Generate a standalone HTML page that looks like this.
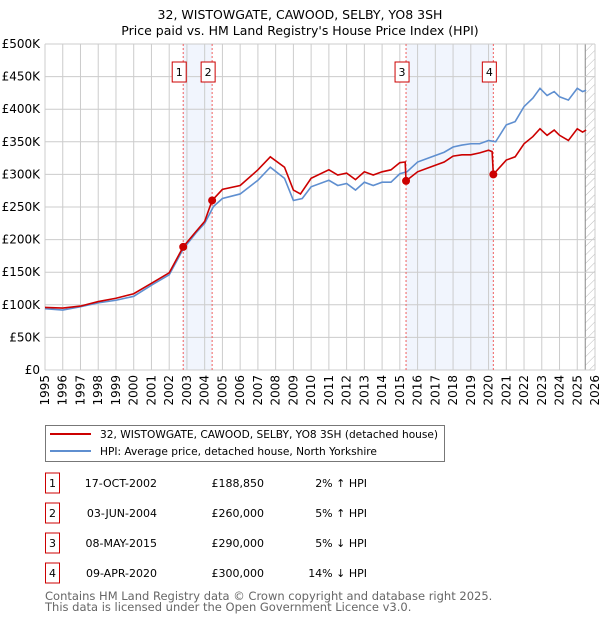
<!DOCTYPE html>
<html><head><meta charset="utf-8"><style>
body{margin:0;background:#fff;font-family:"DejaVu Sans","Liberation Sans",sans-serif;}
svg text{font-family:"DejaVu Sans","Liberation Sans",sans-serif;}
</style></head><body>
<svg id="chart" width="600" height="620" xmlns="http://www.w3.org/2000/svg">
<defs><pattern id="hatch" patternUnits="userSpaceOnUse" width="6" height="6" patternTransform="rotate(45)"><line x1="0" y1="0" x2="0" y2="6" stroke="#bbb" stroke-width="1"/></pattern></defs>
<text x="300" y="19" text-anchor="middle" font-size="12.5">32, WISTOWGATE, CAWOOD, SELBY, YO8 3SH</text>
<text x="300" y="35" text-anchor="middle" font-size="12.5">Price paid vs. HM Land Registry's House Price Index (HPI)</text>
<g id="plot"></g>
<g>
<rect x="45.5" y="425.5" width="399" height="36" fill="#fff" stroke="#777"/>
<line x1="50" y1="434" x2="91" y2="434" stroke="#cc0000" stroke-width="2"/>
<text x="100" y="438" font-size="10.6">32, WISTOWGATE, CAWOOD, SELBY, YO8 3SH (detached house)</text>
<line x1="50" y1="451" x2="91" y2="451" stroke="#5f8fd0" stroke-width="2"/>
<text x="100" y="455" font-size="10.6">HPI: Average price, detached house, North Yorkshire</text>
</g>
<g id="table"></g>
<text x="45" y="600" font-size="11.5" fill="#666">Contains HM Land Registry data © Crown copyright and database right 2025.</text>
<text x="45" y="611" font-size="11.5" fill="#666">This data is licensed under the Open Government Licence v3.0.</text>
</svg>
<script>
const hpiYears=[1995,1996,1997,1998,1999,2000,2001,2002,2002.8,2003.5,2004,2004.5,2005,2006,2007,2007.7,2008.5,2009,2009.5,2010,2011,2011.5,2012,2012.5,2013,2013.5,2014,2014.5,2015,2015.4,2016,2016.5,2017,2017.5,2018,2018.5,2019,2019.5,2020,2020.4,2021,2021.5,2022,2022.5,2022.9,2023.3,2023.7,2024,2024.5,2025,2025.3,2025.5];
const hpiValues=[94,92,97,103,107,113,130,146,186,210,225,251,263,270,291,311,294,260,263,281,291,283,286,276,288,283,288,288,301,304,319,324,329,334,342,345,347,347,352,350,376,381,404,417,432,421,427,419,414,432,427,429];
const priceYears=[1995,1996,1997,1998,1999,2000,2001,2002,2002.79,2003.5,2004,2004.42,2005,2006,2007,2007.7,2008.5,2009,2009.4,2010,2011,2011.5,2012,2012.5,2013,2013.5,2014,2014.5,2015,2015.3,2015.35,2016,2016.5,2017,2017.5,2018,2018.5,2019,2019.5,2020,2020.2,2020.27,2021,2021.5,2022,2022.5,2022.9,2023.3,2023.7,2024,2024.5,2025,2025.3,2025.5];
const priceValues=[96,95,98,105,110,117,133,149,188.85,212,228,260,277,283,307,327,311,276,270,294,307,299,302,292,304,299,304,307,318,319,290,304,309,314,319,328,330,330,333,337,335,300,322,327,347,358,370,360,368,360,352,370,365,368];
const saleLabels=["1","2","3","4"];
const saleYears=[2002.79,2004.42,2015.35,2020.27];
const saleValues=[188.85,260,290,300];
const saleDates=["17-OCT-2002","03-JUN-2004","08-MAY-2015","09-APR-2020"];
const salePrices=["£188,850","£260,000","£290,000","£300,000"];
const saleHpi=["2% ↑ HPI","5% ↑ HPI","5% ↓ HPI","14% ↓ HPI"];
const yTicks=[0,50,100,150,200,250,300,350,400,450,500];
const yTickLabels=["£0","£50K","£100K","£150K","£200K","£250K","£300K","£350K","£400K","£450K","£500K"];
const xTicks=[1995,1996,1997,1998,1999,2000,2001,2002,2003,2004,2005,2006,2007,2008,2009,2010,2011,2012,2013,2014,2015,2016,2017,2018,2019,2020,2021,2022,2023,2024,2025,2026];
const NS="http://www.w3.org/2000/svg";
const X0=45,X1=595,Y0=370,Y1=44;
const x=v=>X0+(v-1995)*(X1-X0)/31;
const y=v=>Y0-v*(Y0-Y1)/500;
const plot=document.getElementById('plot');
function mk(tag,attrs,parent){const e=document.createElementNS(NS,tag);for(const k in attrs)e.setAttribute(k,attrs[k]);(parent||plot).appendChild(e);return e;}
for(let i=0;i<saleYears.length;i+=2){
 const r=mk('rect',{x:x(saleYears[i]),y:Y1,width:x(saleYears[i+1])-x(saleYears[i]),height:Y0-Y1,fill:'#eef3fc',opacity:0.8});
 
 
}
const hx=x(2025.45);
const h=mk('rect',{x:hx,y:Y1,width:X1-hx,height:Y0-Y1,fill:'url(#hatch)'});


mk('line',{x1:hx,y1:Y1,x2:hx,y2:Y0,stroke:'#888','stroke-width':1});
xTicks.forEach(t=>{
 const l=mk('line',{x1:x(t),y1:Y1,x2:x(t),y2:Y0,stroke:'#ccc','stroke-width':1});
 
 
 const tx=mk('text',{x:x(t)+4,y:Y0+5,'font-size':12,transform:`rotate(-90 ${x(t)+4} ${Y0+5})`,'text-anchor':'end'});
 tx.textContent=t;
 
 
});
yTicks.forEach((t,i)=>{
 const l=mk('line',{x1:X0,y1:y(t),x2:X1,y2:y(t),stroke:'#ccc','stroke-width':1});
 
 
 const tx=mk('text',{x:X0-5,y:y(t)+4,'font-size':12,'text-anchor':'end'});
 tx.textContent=yTickLabels[i];
 
 
});
saleYears.forEach((s,i)=>{
 const l=mk('line',{x1:x(s),y1:Y1,x2:x(s),y2:Y0,stroke:'#f06060','stroke-width':1,'stroke-dasharray':'2,2'});
 
 
 const g=mk('g',{});
 
 
 mk('rect',{x:x(s)-11,y:62,width:14,height:20,fill:'#fff',stroke:'#cc0000'},g);
 const t=mk('text',{x:x(s)-4,y:76,'font-size':11,'text-anchor':'middle'},g);
 t.textContent=saleLabels[i];
});
const hp=mk('polyline',{points:hpiYears.map((yr,i)=>x(yr)+','+y(hpiValues[i])).join(' '),fill:'none',stroke:'#5f8fd0','stroke-width':1.6});


const pp=mk('polyline',{points:priceYears.map((yr,i)=>x(yr)+','+y(priceValues[i])).join(' '),fill:'none',stroke:'#cc0000','stroke-width':1.6});


saleYears.forEach((s,i)=>{
 const c=mk('circle',{cx:x(s),cy:y(saleValues[i]),r:4,fill:'#cc0000'});
 
 
});
const tb=document.getElementById('table');
saleLabels.forEach((lab,i)=>{
 const cy=483+i*30;
 const g=mk('g',{},tb);
 
 
 mk('rect',{x:45.5,y:cy-10,width:14,height:20,fill:'#fff',stroke:'#cc0000'},g);
 const a=mk('text',{x:52.5,y:cy+4,'font-size':11,'text-anchor':'middle'},g);a.textContent=lab;
 const b=mk('text',{x:157,y:cy+4,'font-size':11,'text-anchor':'end'},g);b.textContent=saleDates[i];
 const c=mk('text',{x:264,y:cy+4,'font-size':11,'text-anchor':'end'},g);c.textContent=salePrices[i];
 const d=mk('text',{x:367,y:cy+4,'font-size':11,'text-anchor':'end'},g);d.textContent=saleHpi[i];
});
</script>
</body></html>
